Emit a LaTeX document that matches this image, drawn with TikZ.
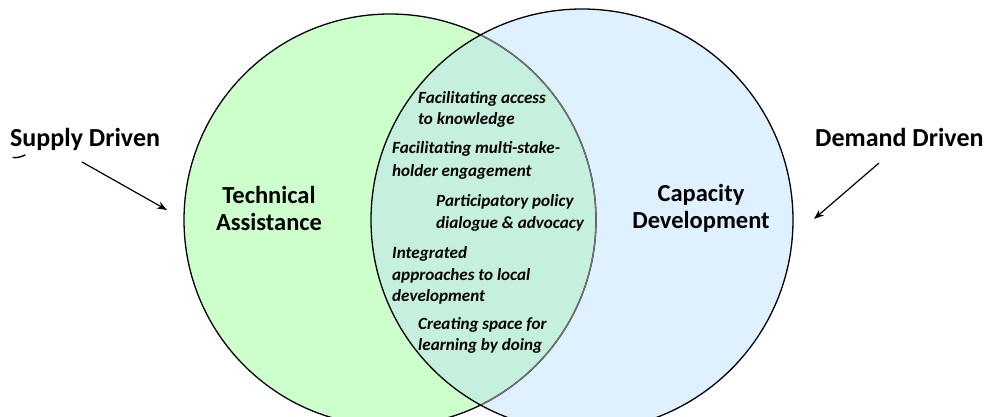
\documentclass[tikz,border=0pt]{standalone}
\usepackage{fontspec}
\setmainfont{Carlito}
\usetikzlibrary{arrows.meta}
\definecolor{tagreen}{HTML}{CCFFCC}
\definecolor{cdblue}{HTML}{DFF1FF}
\definecolor{mixc}{HTML}{C6F0DE}
\tikzset{
  big/.style={font=\fontsize{24.5}{28}\selectfont\bfseries, inner sep=0pt, align=center},
  side/.style={font=\fontsize{26}{30}\selectfont\bfseries, inner sep=0pt, anchor=base west},
  inner/.style={font=\fontsize{17.1}{20}\selectfont\bfseries\itshape, inner sep=0pt, anchor=base west},
  arr/.style={-{Stealth[length=10pt,width=7.5pt]}, line width=1.2pt},
  ring/.style={line width=1.3pt}
}
\begin{document}
\begin{tikzpicture}[x=1pt,y=-1pt]
\useasboundingbox (0,0) rectangle (991,417);
\begin{scope}
\clip (0,0) rectangle (991,417);
\fill[tagreen] (390,220) circle (206);
\fill[cdblue] (582,220) circle (211);
\begin{scope}
\clip (390,220) circle (206);
\fill[mixc] (582,220) circle (211);
\end{scope}
\draw[ring] (390,220) circle (206);
\draw[ring] (582,220) circle (211);
\begin{scope}
\clip (582,220) circle (210.3);
\draw[ring, draw=black!55] (390,220) circle (206);
\end{scope}
\end{scope}

\node[big] (ta) at (269,208) {Technical\\[-1pt]Assistance};
\node[big] (cd) at (701,208) {Capacity\\[-1pt]Development};

\node[side] (sd) at (10,147) {Supply Driven};
\node[side] (dd) at (815,147) {Demand Driven};

\node[inner] (i1) at (418,104) {Facilitating access};
\node[inner] (i2) at (418,125) {to knowledge};
\node[inner] (i3) at (392,154) {Facilitating multi-stake-};
\node[inner] (i4) at (392,176) {holder engagement};
\node[inner] (i5) at (436,207) {Participatory policy};
\node[inner] (i6) at (436,228) {dialogue \& advocacy};
\node[inner] (i7) at (392,258) {Integrated};
\node[inner] (i8) at (392,280) {approaches to local};
\node[inner] (i9) at (392,301) {development};
\node[inner] (i10) at (418,329) {Creating space for};
\node[inner] (i11) at (418,350) {learning by doing};

\coordinate (sa1) at (82,162);
\coordinate (sa2) at (167,210);
\coordinate (da1) at (879,163);
\coordinate (da2) at (814,219);
\draw[arr] (sa1) -- (sa2);
\draw[arr] (da1) -- (da2);

\coordinate (m1) at (13,157.5);
\coordinate (m2) at (25,155);
\draw[line width=1.4pt, line cap=round] (m1) .. controls (17,158) and (21,157) .. (m2);
\end{tikzpicture}
\end{document}
